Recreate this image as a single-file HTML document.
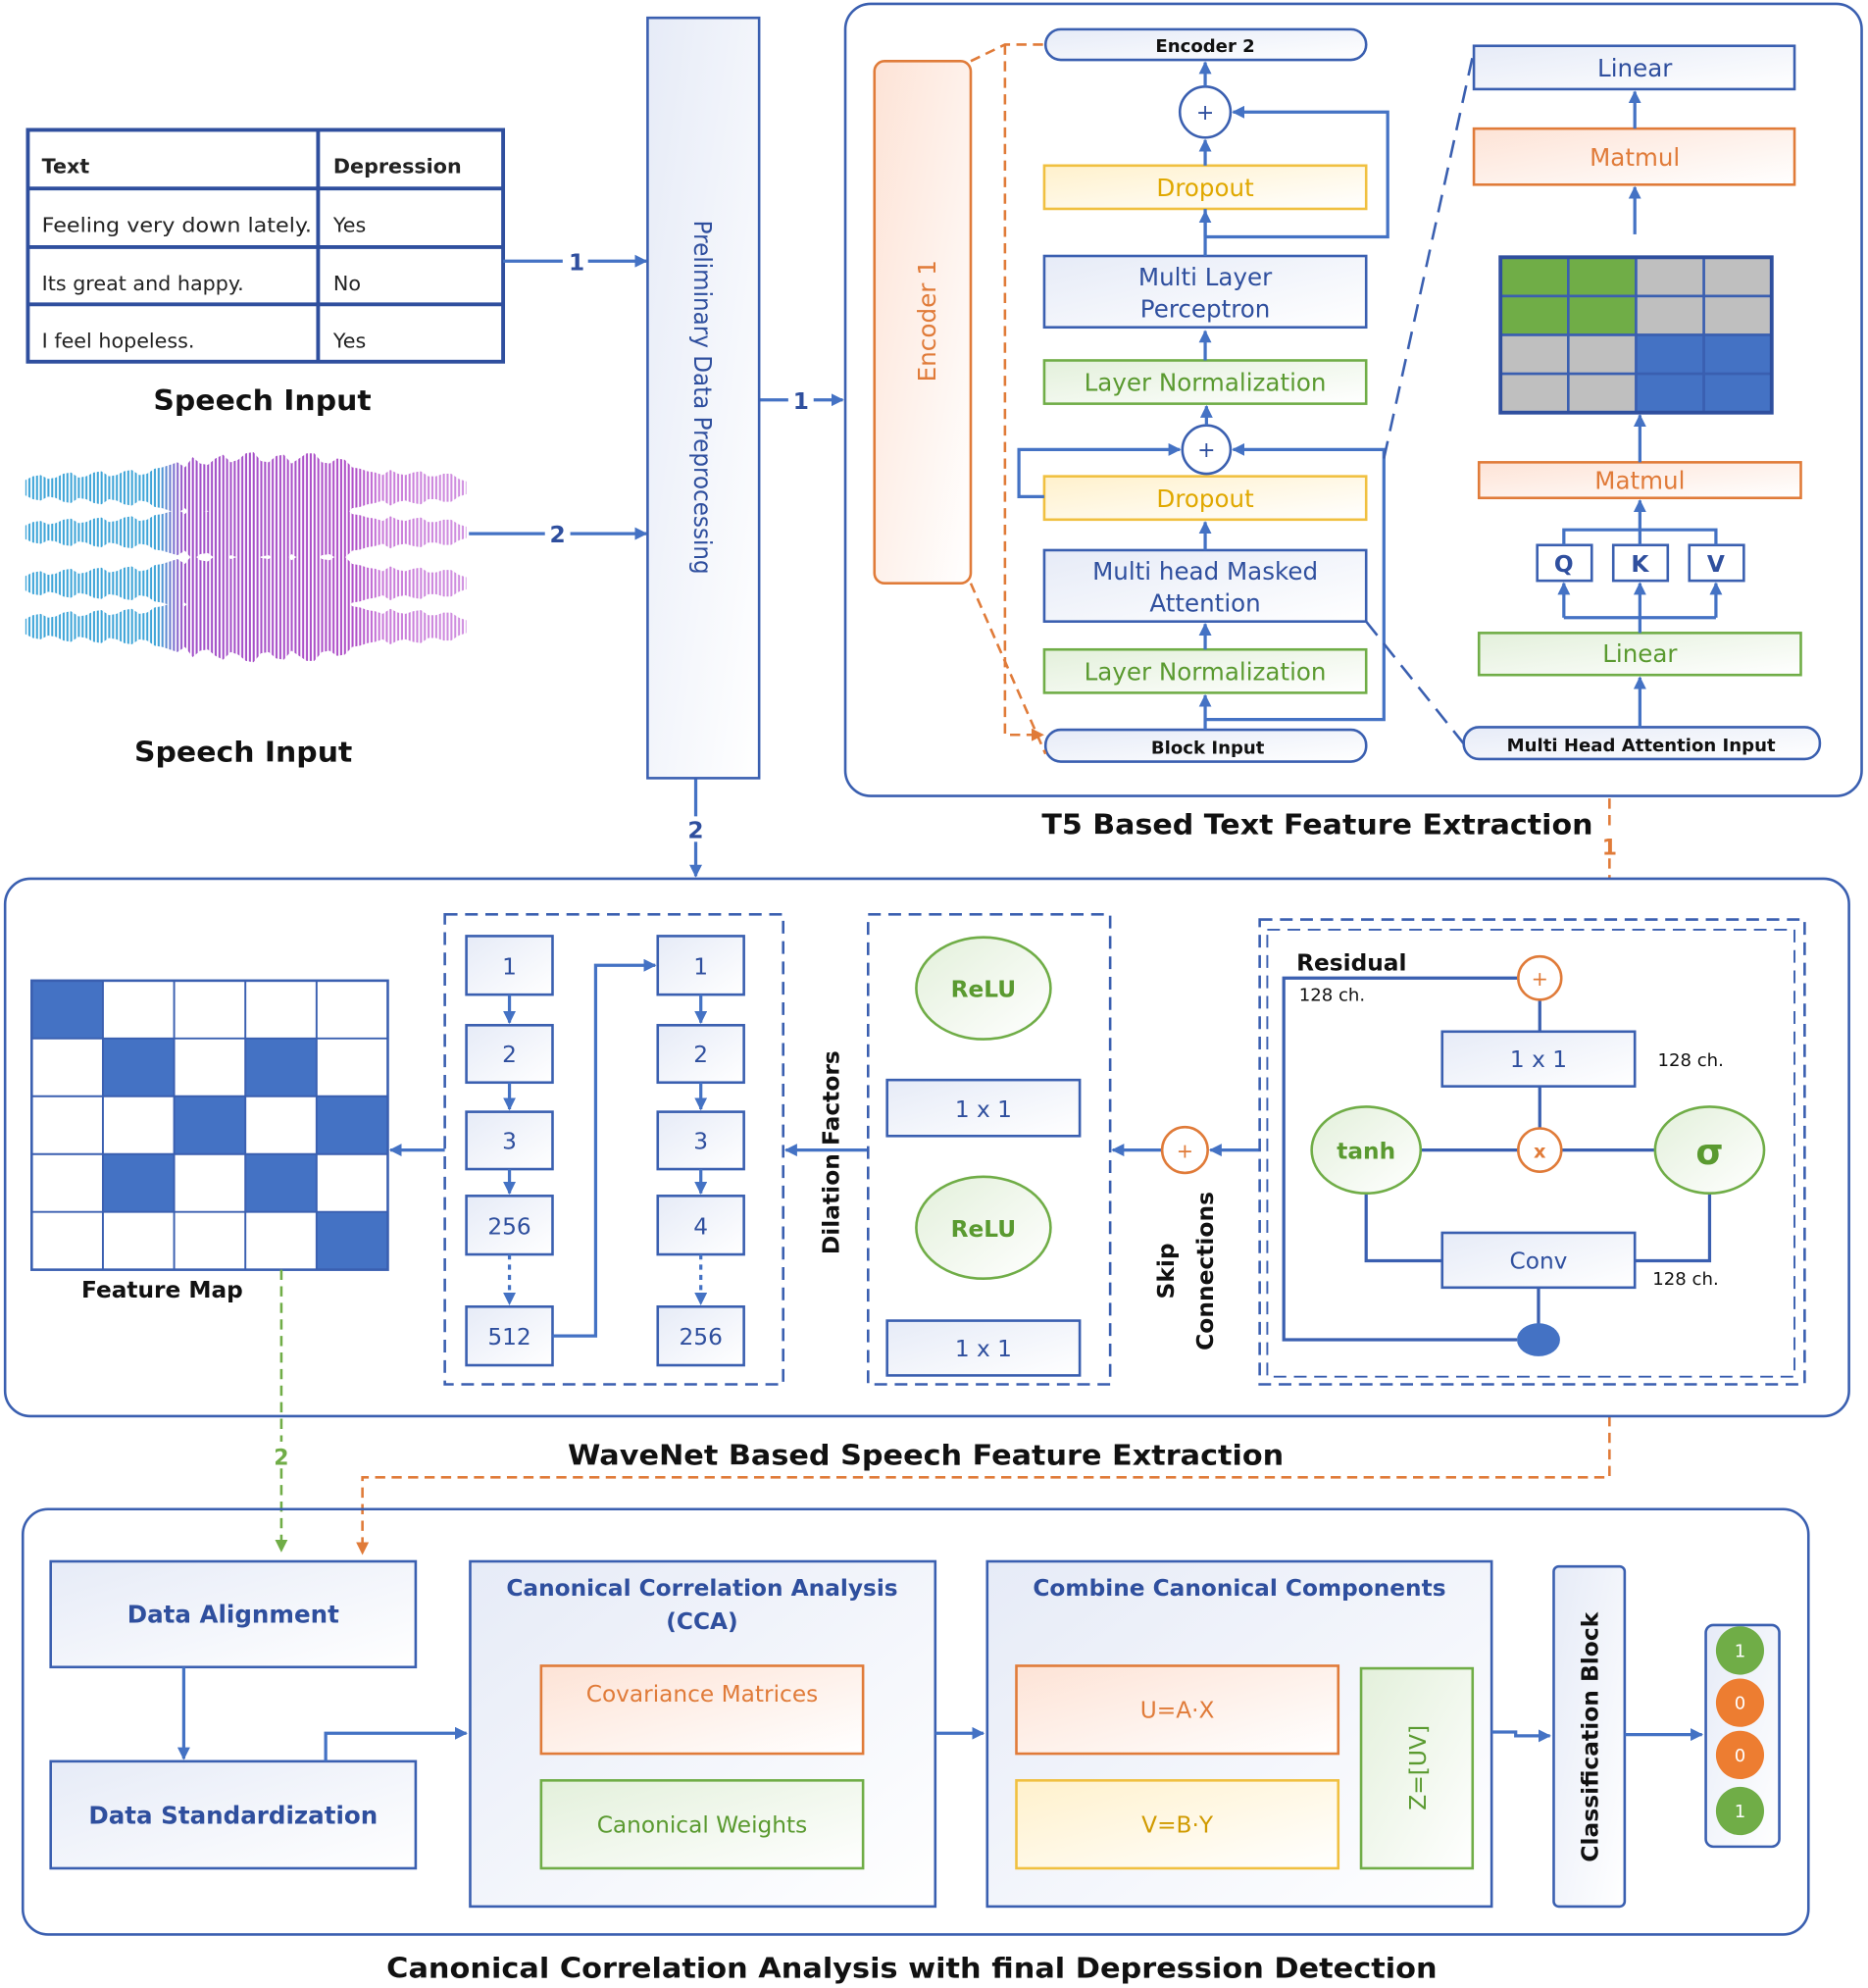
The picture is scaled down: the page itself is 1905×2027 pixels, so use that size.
<!DOCTYPE html>
<html><head><meta charset="utf-8"><style>
html,body{margin:0;padding:0;background:#fff}
svg{display:block}
text{font-family:"DejaVu Sans","Liberation Sans",sans-serif}
</style></head><body>
<svg width="1905" height="2027" viewBox="0 0 1474 1561" preserveAspectRatio="none" xmlns="http://www.w3.org/2000/svg">
<defs>
<marker id="ab" markerWidth="10" markerHeight="10" refX="9" refY="5" orient="auto" markerUnits="userSpaceOnUse"><path d="M0,0 L10,5 L0,10 z" fill="#4472c4"/></marker>
<marker id="ao" markerWidth="10" markerHeight="10" refX="9" refY="5" orient="auto" markerUnits="userSpaceOnUse"><path d="M0,0 L10,5 L0,10 z" fill="#e07b39"/></marker>
<marker id="ag" markerWidth="10" markerHeight="10" refX="9" refY="5" orient="auto" markerUnits="userSpaceOnUse"><path d="M0,0 L10,5 L0,10 z" fill="#70ad47"/></marker>
<linearGradient id="gb" x1="0" y1="0" x2="1" y2="1"><stop offset="0" stop-color="#e6ebf7"/><stop offset="1" stop-color="#ffffff"/></linearGradient>
<linearGradient id="go" x1="0" y1="0" x2="1" y2="1"><stop offset="0" stop-color="#fde3d6"/><stop offset="1" stop-color="#ffffff"/></linearGradient>
<linearGradient id="gy" x1="0" y1="0" x2="1" y2="1"><stop offset="0" stop-color="#fff1cc"/><stop offset="1" stop-color="#ffffff"/></linearGradient>
<linearGradient id="gg" x1="0" y1="0" x2="1" y2="1"><stop offset="0" stop-color="#e3f0db"/><stop offset="1" stop-color="#ffffff"/></linearGradient>
<linearGradient id="wg" gradientUnits="userSpaceOnUse" x1="20" y1="0" x2="368" y2="0">
<stop offset="0" stop-color="#3fa5d8"/><stop offset="0.3" stop-color="#3fa5d8"/><stop offset="0.36" stop-color="#a050c8"/><stop offset="0.75" stop-color="#b050c8"/><stop offset="0.8" stop-color="#c878d8"/><stop offset="1" stop-color="#d090e0"/></linearGradient>
<pattern id="stripe" patternUnits="userSpaceOnUse" width="3" height="10"><rect x="0" y="0" width="1.4" height="10" fill="#fff"/></pattern>
<polygon id="wv" points="20,-6 26,-9 32,-10 38,-7 44,-8 50,-11 56,-12 62,-8 68,-9 74,-12 80,-13 86,-9 92,-10 98,-13 104,-14 110,-10 116,-11 122,-15 128,-16 134,-18 140,-20 146,-16 152,-24 158,-19 164,-18 170,-23 176,-26 182,-20 188,-22 194,-27 200,-28 206,-21 212,-20 218,-25 224,-26 230,-19 236,-23 242,-27 248,-27 254,-20 260,-19 266,-23 272,-22 278,-16 284,-15 290,-13 296,-12 302,-10 308,-14 314,-11 320,-10 326,-12 332,-13 338,-9 344,-9 350,-11 356,-11 362,-7 368,-5 368,5 362,7 356,11 350,11 344,9 338,9 332,13 326,12 320,10 314,11 308,14 302,10 296,12 290,13 284,15 278,16 272,22 266,23 260,19 254,20 248,27 242,27 236,23 230,19 224,26 218,25 212,20 206,21 200,28 194,27 188,22 182,20 176,26 170,23 164,18 158,19 152,24 146,16 140,20 134,18 128,16 122,15 116,11 110,10 104,14 98,13 92,10 86,9 80,13 74,12 68,9 62,8 56,12 50,11 44,8 38,7 32,10 26,9 20,6"/>
</defs>

<!-- Table -->
<g stroke="#2f4f9e" stroke-width="3" fill="none">
<rect x="22" y="102" width="375" height="182"/>
<line x1="251" y1="102" x2="251" y2="284"/>
<line x1="22" y1="148" x2="397" y2="148"/>
<line x1="22" y1="194" x2="397" y2="194"/>
<line x1="22" y1="239" x2="397" y2="239"/>
</g>
<g font-size="16" fill="#222">
<text x="33" y="136" font-weight="bold" font-size="16">Text</text>
<text x="263" y="136" font-weight="bold" font-size="16">Depression</text>
<text x="33" y="182" textLength="213" lengthAdjust="spacingAndGlyphs">Feeling very down lately.</text><text x="263" y="182">Yes</text>
<text x="33" y="228">Its great and happy.</text><text x="263" y="228">No</text>
<text x="33" y="273">I feel hopeless.</text><text x="263" y="273">Yes</text>
</g>
<text x="121" y="322" font-weight="bold" font-size="22" fill="#111" textLength="172" lengthAdjust="spacingAndGlyphs">Speech Input</text>

<!-- waveform -->
<g fill="url(#wg)">
<use href="#wv" transform="translate(0,383)"/>
<use href="#wv" transform="translate(0,418) scale(1,0.9)"/>
<use href="#wv" transform="translate(0,458) scale(1,0.95)"/>
<use href="#wv" transform="translate(0,492)"/>
</g>
<rect x="18" y="350" width="352" height="176" fill="url(#stripe)"/>

<text x="106" y="598" font-weight="bold" font-size="22" fill="#111" textLength="172" lengthAdjust="spacingAndGlyphs">Speech Input</text>

<g stroke="#4472c4" stroke-width="2.5" fill="none" marker-end="url(#ab)">
<line x1="397" y1="205" x2="510" y2="205"/>
<line x1="370" y1="419" x2="510" y2="419"/>
<line x1="599" y1="314" x2="665" y2="314"/>
<line x1="549" y1="611" x2="549" y2="688"/>
</g>
<g font-size="18" font-weight="bold" fill="#2f4f9e" text-anchor="middle">
<rect x="444" y="195" width="20" height="20" fill="#fff"/><text x="455" y="212">1</text>
<rect x="430" y="409" width="20" height="20" fill="#fff"/><text x="440" y="426">2</text>
<rect x="622" y="304" width="20" height="20" fill="#fff"/><text x="632" y="321">1</text>
<rect x="539" y="641" width="20" height="20" fill="#fff"/><text x="549" y="658">2</text>
</g>

<!-- Preprocessing -->
<rect x="511" y="14" width="88" height="597" fill="url(#gb)" stroke="#3a5fb0" stroke-width="2"/>
<text transform="translate(548,312) rotate(90)" text-anchor="middle" font-size="19" fill="#2f4f9e" textLength="278" lengthAdjust="spacingAndGlyphs">Preliminary Data Preprocessing</text>

<!-- T5 -->
<rect x="667" y="3" width="802" height="622" rx="20" fill="none" stroke="#3a5fb0" stroke-width="2"/>
<text x="822" y="655" font-weight="bold" font-size="22" fill="#111" textLength="435" lengthAdjust="spacingAndGlyphs">T5 Based Text Feature Extraction</text>
<rect x="690" y="48" width="76" height="410" rx="8" fill="url(#go)" stroke="#e07b39" stroke-width="2"/>
<text transform="translate(738,252) rotate(-90)" text-anchor="middle" font-size="19" fill="#e07b39">Encoder 1</text>

<rect x="825" y="23" width="253" height="24" rx="12" fill="url(#gb)" stroke="#3a5fb0" stroke-width="2"/>
<text x="951" y="41" text-anchor="middle" font-weight="bold" font-size="14" fill="#111">Encoder 2</text>
<rect x="825" y="573" width="253" height="25" rx="12" fill="url(#gb)" stroke="#3a5fb0" stroke-width="2"/>
<text x="953" y="592" text-anchor="middle" font-weight="bold" font-size="14" fill="#111">Block Input</text>

<g stroke-width="2">
<rect x="824" y="130" width="254" height="34" fill="url(#gy)" stroke="#f0c040"/>
<rect x="824" y="201" width="254" height="56" fill="url(#gb)" stroke="#3a5fb0"/>
<rect x="824" y="283" width="254" height="34" fill="url(#gg)" stroke="#70ad47"/>
<rect x="824" y="374" width="254" height="34" fill="url(#gy)" stroke="#f0c040"/>
<rect x="824" y="432" width="254" height="56" fill="url(#gb)" stroke="#3a5fb0"/>
<rect x="824" y="510" width="254" height="34" fill="url(#gg)" stroke="#70ad47"/>
</g>
<g font-size="19" text-anchor="middle">
<text x="951" y="154" fill="#e0a800">Dropout</text>
<text x="951" y="224" fill="#2f4f9e">Multi Layer</text><text x="951" y="249" fill="#2f4f9e">Perceptron</text>
<text x="951" y="307" fill="#5a9a30">Layer Normalization</text>
<text x="951" y="398" fill="#e0a800">Dropout</text>
<text x="951" y="455" fill="#2f4f9e">Multi head Masked</text><text x="951" y="480" fill="#2f4f9e">Attention</text>
<text x="951" y="534" fill="#5a9a30">Layer Normalization</text>
</g>
<circle cx="951" cy="88" r="20" fill="#fff" stroke="#3a5fb0" stroke-width="2"/><text x="951" y="94" text-anchor="middle" font-size="17" fill="#2f4f9e">+</text>
<circle cx="952" cy="353" r="19" fill="#fff" stroke="#3a5fb0" stroke-width="2"/><text x="952" y="359" text-anchor="middle" font-size="17" fill="#2f4f9e">+</text>
<g stroke="#4472c4" stroke-width="2.5" fill="none" marker-end="url(#ab)">
<line x1="951" y1="573" x2="951" y2="546"/>
<line x1="951" y1="510" x2="951" y2="490"/>
<line x1="951" y1="432" x2="951" y2="410"/>
<line x1="951" y1="283" x2="951" y2="260"/>
<line x1="951" y1="201" x2="951" y2="166"/>
<line x1="951" y1="130" x2="951" y2="110"/>
<line x1="951" y1="68" x2="951" y2="49"/>
<line x1="952" y1="334" x2="952" y2="319"/>
<polyline points="952,186 1095,186 1095,88 973,88"/>
<polyline points="824,390 804,390 804,353 931,353"/>
<polyline points="952,565 1092,565 1092,353 973,353"/>
</g>
<line x1="951" y1="164" x2="951" y2="186" stroke="#4472c4" stroke-width="2.5"/>
<g stroke="#e07b39" stroke-width="2" fill="none" stroke-dasharray="8,5">
<polyline points="766,48 793,35 825,35"/>
<polyline points="793,35 793,577 823,577" marker-end="url(#ao)"/>
<line x1="766" y1="458" x2="825" y2="592"/>
</g>
<g stroke="#3a5fb0" stroke-width="2" fill="none" stroke-dasharray="14,8">
<line x1="1078" y1="488" x2="1155" y2="584"/>
<line x1="1092" y1="360" x2="1163" y2="40"/>
</g>

<!-- attention detail -->
<rect x="1163" y="36" width="253" height="34" fill="url(#gb)" stroke="#3a5fb0" stroke-width="2"/>
<text x="1290" y="60" text-anchor="middle" font-size="19" fill="#2f4f9e">Linear</text>
<rect x="1163" y="101" width="253" height="44" fill="url(#go)" stroke="#e07b39" stroke-width="2"/>
<text x="1290" y="130" text-anchor="middle" font-size="19" fill="#e07b39">Matmul</text>
<g stroke="#3a5fb0" stroke-width="2">
<rect x="1184" y="202" width="53.5" height="30.5" fill="#70ad47"/><rect x="1237.5" y="202" width="53.5" height="30.5" fill="#70ad47"/><rect x="1291" y="202" width="53.5" height="30.5" fill="#bfbfbf"/><rect x="1344.5" y="202" width="53.5" height="30.5" fill="#bfbfbf"/>
<rect x="1184" y="232.5" width="53.5" height="30.5" fill="#70ad47"/><rect x="1237.5" y="232.5" width="53.5" height="30.5" fill="#70ad47"/><rect x="1291" y="232.5" width="53.5" height="30.5" fill="#bfbfbf"/><rect x="1344.5" y="232.5" width="53.5" height="30.5" fill="#bfbfbf"/>
<rect x="1184" y="263" width="53.5" height="30.5" fill="#bfbfbf"/><rect x="1237.5" y="263" width="53.5" height="30.5" fill="#bfbfbf"/><rect x="1291" y="263" width="53.5" height="30.5" fill="#4472c4"/><rect x="1344.5" y="263" width="53.5" height="30.5" fill="#4472c4"/>
<rect x="1184" y="293.5" width="53.5" height="30.5" fill="#bfbfbf"/><rect x="1237.5" y="293.5" width="53.5" height="30.5" fill="#bfbfbf"/><rect x="1291" y="293.5" width="53.5" height="30.5" fill="#4472c4"/><rect x="1344.5" y="293.5" width="53.5" height="30.5" fill="#4472c4"/>
</g>
<rect x="1184" y="202" width="214" height="122" fill="none" stroke="#2f4f9e" stroke-width="3"/>
<rect x="1167" y="363" width="254" height="28" fill="url(#go)" stroke="#e07b39" stroke-width="2"/>
<text x="1294" y="384" text-anchor="middle" font-size="19" fill="#e07b39">Matmul</text>
<g stroke="#3a5fb0" stroke-width="2" fill="#fff">
<rect x="1213" y="428" width="43" height="28"/><rect x="1273" y="428" width="43" height="28"/><rect x="1333" y="428" width="43" height="28"/>
</g>
<g font-size="18" font-weight="bold" fill="#2f4f9e" text-anchor="middle"><text x="1234" y="449">Q</text><text x="1294" y="449">K</text><text x="1354" y="449">V</text></g>
<rect x="1167" y="497" width="254" height="33" fill="url(#gg)" stroke="#70ad47" stroke-width="2"/>
<text x="1294" y="520" text-anchor="middle" font-size="19" fill="#5a9a30">Linear</text>
<rect x="1155" y="571" width="281" height="25" rx="12" fill="url(#gb)" stroke="#3a5fb0" stroke-width="2"/>
<text x="1295" y="590" text-anchor="middle" font-weight="bold" font-size="14" fill="#111">Multi Head Attention Input</text>
<g stroke="#4472c4" stroke-width="2.5" fill="none">
<line x1="1290" y1="101" x2="1290" y2="72" marker-end="url(#ab)"/>
<line x1="1290" y1="184" x2="1290" y2="147" marker-end="url(#ab)"/>
<line x1="1294" y1="363" x2="1294" y2="326" marker-end="url(#ab)"/>
<line x1="1294" y1="428" x2="1294" y2="393" marker-end="url(#ab)"/>
<polyline points="1234,428 1234,416 1354,416 1354,428"/>
<polyline points="1234,485 1354,485"/>
<line x1="1234" y1="485" x2="1234" y2="458" marker-end="url(#ab)"/>
<line x1="1294" y1="497" x2="1294" y2="458" marker-end="url(#ab)"/>
<line x1="1354" y1="485" x2="1354" y2="458" marker-end="url(#ab)"/>
<line x1="1294" y1="571" x2="1294" y2="532" marker-end="url(#ab)"/>
</g>

<!-- orange dashed 1 -->
<g stroke="#e07b39" stroke-width="2" fill="none" stroke-dasharray="8,5">
<line x1="1270" y1="627" x2="1270" y2="652"/>
<line x1="1270" y1="674" x2="1270" y2="690"/>
<polyline points="1270,1112 1270,1160 286,1160 286,1220" marker-end="url(#ao)"/>
</g>
<text x="1270" y="671" text-anchor="middle" font-size="17" font-weight="bold" fill="#e07b39">1</text>

<!-- WaveNet -->
<rect x="4" y="690" width="1455" height="422" rx="20" fill="none" stroke="#3a5fb0" stroke-width="2"/>
<text x="448" y="1150" font-weight="bold" font-size="22" fill="#111" textLength="565" lengthAdjust="spacingAndGlyphs">WaveNet Based Speech Feature Extraction</text>

<!-- feature map -->
<rect x="25" y="770" width="281" height="227" fill="#fff"/>
<g fill="#4472c4">
<rect x="25" y="770" width="56.2" height="45.4"/>
<rect x="81.2" y="815.4" width="56.2" height="45.4"/><rect x="193.6" y="815.4" width="56.2" height="45.4"/>
<rect x="137.4" y="860.8" width="56.2" height="45.4"/><rect x="249.8" y="860.8" width="56.2" height="45.4"/>
<rect x="81.2" y="906.2" width="56.2" height="45.4"/><rect x="193.6" y="906.2" width="56.2" height="45.4"/>
<rect x="249.8" y="951.6" width="56.2" height="45.4"/>
</g>
<g stroke="#3a5fb0" stroke-width="1.5">
<line x1="81.2" y1="770" x2="81.2" y2="997"/><line x1="137.4" y1="770" x2="137.4" y2="997"/><line x1="193.6" y1="770" x2="193.6" y2="997"/><line x1="249.8" y1="770" x2="249.8" y2="997"/>
<line x1="25" y1="815.4" x2="306" y2="815.4"/><line x1="25" y1="860.8" x2="306" y2="860.8"/><line x1="25" y1="906.2" x2="306" y2="906.2"/><line x1="25" y1="951.6" x2="306" y2="951.6"/>
</g>
<rect x="25" y="770" width="281" height="227" fill="none" stroke="#3a5fb0" stroke-width="2"/>
<text x="128" y="1019" text-anchor="middle" font-weight="bold" font-size="18" fill="#111">Feature Map</text>

<rect x="351" y="718" width="267" height="369" fill="none" stroke="#3a5fb0" stroke-width="2" stroke-dasharray="10,6"/>
<g stroke="#3a5fb0" stroke-width="2" fill="url(#gb)">
<rect x="368" y="735" width="68" height="46"/><rect x="368" y="805" width="68" height="45"/><rect x="368" y="873" width="68" height="45"/><rect x="368" y="939" width="68" height="46"/><rect x="368" y="1026" width="68" height="46"/>
<rect x="519" y="735" width="68" height="46"/><rect x="519" y="805" width="68" height="45"/><rect x="519" y="873" width="68" height="45"/><rect x="519" y="939" width="68" height="46"/><rect x="519" y="1026" width="68" height="46"/>
</g>
<g font-size="18" fill="#2f4f9e" text-anchor="middle">
<text x="402" y="765">1</text><text x="402" y="834">2</text><text x="402" y="902">3</text><text x="402" y="969">256</text><text x="402" y="1056">512</text>
<text x="553" y="765">1</text><text x="553" y="834">2</text><text x="553" y="902">3</text><text x="553" y="969">4</text><text x="553" y="1056">256</text>
</g>
<g stroke="#4472c4" stroke-width="2.5" fill="none" marker-end="url(#ab)">
<line x1="402" y1="781" x2="402" y2="803"/><line x1="402" y1="850" x2="402" y2="871"/><line x1="402" y1="918" x2="402" y2="937"/>
<line x1="553" y1="781" x2="553" y2="803"/><line x1="553" y1="850" x2="553" y2="871"/><line x1="553" y1="918" x2="553" y2="937"/>
<line x1="402" y1="985" x2="402" y2="1024" stroke-dasharray="4,4"/>
<line x1="553" y1="985" x2="553" y2="1024" stroke-dasharray="4,4"/>
<polyline points="436,1049 470,1049 470,758 517,758"/>
<line x1="351" y1="903" x2="308" y2="903"/>
<line x1="685" y1="903" x2="620" y2="903"/>
<line x1="917" y1="903" x2="878" y2="903"/>
<line x1="995" y1="903" x2="955" y2="903"/>
</g>
<text transform="translate(662,905) rotate(-90)" text-anchor="middle" font-size="18" font-weight="bold" fill="#111">Dilation Factors</text>

<rect x="685" y="718" width="191" height="369" fill="none" stroke="#3a5fb0" stroke-width="2" stroke-dasharray="10,6"/>
<ellipse cx="776" cy="776" rx="53" ry="40" fill="url(#gg)" stroke="#70ad47" stroke-width="2"/>
<ellipse cx="776" cy="964" rx="53" ry="40" fill="url(#gg)" stroke="#70ad47" stroke-width="2"/>
<text x="776" y="783" text-anchor="middle" font-size="18" font-weight="bold" fill="#5a9a30">ReLU</text>
<text x="776" y="971" text-anchor="middle" font-size="18" font-weight="bold" fill="#5a9a30">ReLU</text>
<rect x="700" y="848" width="152" height="44" fill="url(#gb)" stroke="#3a5fb0" stroke-width="2"/>
<rect x="700" y="1037" width="152" height="43" fill="url(#gb)" stroke="#3a5fb0" stroke-width="2"/>
<text x="776" y="877" text-anchor="middle" font-size="18" fill="#2f4f9e">1 x 1</text>
<text x="776" y="1065" text-anchor="middle" font-size="18" fill="#2f4f9e">1 x 1</text>

<circle cx="935" cy="903" r="18" fill="#fff" stroke="#e07b39" stroke-width="2"/><text x="935" y="909" text-anchor="middle" font-size="16" fill="#e07b39">+</text>
<text transform="translate(926,998) rotate(-90)" text-anchor="middle" font-size="18" font-weight="bold" fill="#111">Skip</text>
<text transform="translate(957,998) rotate(-90)" text-anchor="middle" font-size="18" font-weight="bold" fill="#111">Connections</text>

<rect x="994" y="722" width="430" height="365" fill="none" stroke="#3a5fb0" stroke-width="2" stroke-dasharray="10,6"/>
<rect x="1000" y="730" width="416" height="351" fill="none" stroke="#3a5fb0" stroke-width="1.5" stroke-dasharray="10,6"/>
<text x="1023" y="762" font-size="18" font-weight="bold" fill="#111">Residual</text>
<text x="1025" y="786" font-size="14" fill="#111">128 ch.</text>
<text x="1308" y="837" font-size="14" fill="#111">128 ch.</text>
<text x="1304" y="1009" font-size="14" fill="#111">128 ch.</text>
<g stroke="#3a5fb0" stroke-width="2.5" fill="none">
<polyline points="1197,768 1013,768 1013,1052 1197,1052"/>
<line x1="1215" y1="785" x2="1215" y2="810"/>
<line x1="1215" y1="853" x2="1215" y2="886"/>
<line x1="1121" y1="903" x2="1306" y2="903"/>
<polyline points="1078,937 1078,990 1138,990"/>
<polyline points="1349,937 1349,990 1290,990"/>
<line x1="1214" y1="1011" x2="1214" y2="1040"/>
</g>
<rect x="1138" y="810" width="152" height="43" fill="url(#gb)" stroke="#3a5fb0" stroke-width="2"/>
<text x="1214" y="838" text-anchor="middle" font-size="18" fill="#2f4f9e">1 x 1</text>
<rect x="1138" y="968" width="152" height="43" fill="url(#gb)" stroke="#3a5fb0" stroke-width="2"/>
<text x="1214" y="996" text-anchor="middle" font-size="18" fill="#2f4f9e">Conv</text>
<circle cx="1215" cy="768" r="17" fill="#fff" stroke="#e07b39" stroke-width="2"/><text x="1215" y="774" text-anchor="middle" font-size="16" fill="#e07b39">+</text>
<circle cx="1215" cy="903" r="17" fill="#fff" stroke="#e07b39" stroke-width="2"/><text x="1215" y="909" text-anchor="middle" font-size="15" font-weight="bold" fill="#e07b39">x</text>
<ellipse cx="1078" cy="903" rx="43" ry="34" fill="url(#gg)" stroke="#70ad47" stroke-width="2"/>
<text x="1078" y="910" text-anchor="middle" font-size="18" font-weight="bold" fill="#5a9a30">tanh</text>
<ellipse cx="1349" cy="903" rx="43" ry="34" fill="url(#gg)" stroke="#70ad47" stroke-width="2"/>
<text x="1349" y="914" text-anchor="middle" font-size="28" font-weight="bold" fill="#5a9a30">σ</text>
<ellipse cx="1214" cy="1052" rx="17" ry="13" fill="#4472c4"/>

<!-- green dashed 2 -->
<line x1="222" y1="997" x2="222" y2="1218" stroke="#70ad47" stroke-width="2" stroke-dasharray="8,5" marker-end="url(#ag)"/>
<rect x="212" y="1132" width="20" height="20" fill="#fff"/>
<text x="222" y="1150" text-anchor="middle" font-size="17" font-weight="bold" fill="#70ad47">2</text>

<!-- CCA -->
<rect x="18" y="1185" width="1409" height="334" rx="20" fill="none" stroke="#3a5fb0" stroke-width="2"/>
<text x="305" y="1553" font-weight="bold" font-size="22" fill="#111" textLength="829" lengthAdjust="spacingAndGlyphs">Canonical Correlation Analysis with final Depression Detection</text>
<rect x="40" y="1226" width="288" height="83" fill="url(#gb)" stroke="#3a5fb0" stroke-width="2"/>
<text x="184" y="1274" text-anchor="middle" font-size="19" font-weight="bold" fill="#2f4f9e">Data Alignment</text>
<rect x="40" y="1383" width="288" height="84" fill="url(#gb)" stroke="#3a5fb0" stroke-width="2"/>
<text x="184" y="1432" text-anchor="middle" font-size="19" font-weight="bold" fill="#2f4f9e">Data Standardization</text>
<rect x="371" y="1226" width="367" height="271" fill="url(#gb)" stroke="#3a5fb0" stroke-width="2"/>
<text x="554" y="1253" text-anchor="middle" font-size="18" font-weight="bold" fill="#2f4f9e">Canonical Correlation Analysis</text>
<text x="554" y="1279" text-anchor="middle" font-size="18" font-weight="bold" fill="#2f4f9e">(CCA)</text>
<rect x="427" y="1308" width="254" height="69" fill="url(#go)" stroke="#e07b39" stroke-width="2"/>
<text x="554" y="1336" text-anchor="middle" font-size="18" fill="#e07b39">Covariance Matrices</text>
<rect x="427" y="1398" width="254" height="69" fill="url(#gg)" stroke="#70ad47" stroke-width="2"/>
<text x="554" y="1439" text-anchor="middle" font-size="18" fill="#5a9a30">Canonical Weights</text>
<rect x="779" y="1226" width="398" height="271" fill="url(#gb)" stroke="#3a5fb0" stroke-width="2"/>
<text x="978" y="1253" text-anchor="middle" font-size="18" font-weight="bold" fill="#2f4f9e">Combine Canonical Components</text>
<rect x="802" y="1308" width="254" height="69" fill="url(#go)" stroke="#e07b39" stroke-width="2"/>
<text x="929" y="1349" text-anchor="middle" font-size="18" fill="#e07b39">U=A·X</text>
<rect x="802" y="1398" width="254" height="69" fill="url(#gy)" stroke="#f0c040" stroke-width="2"/>
<text x="929" y="1439" text-anchor="middle" font-size="18" fill="#d09a00">V=B·Y</text>
<rect x="1074" y="1310" width="88" height="157" fill="url(#gg)" stroke="#70ad47" stroke-width="2"/>
<text transform="translate(1125,1388) rotate(-90)" text-anchor="middle" font-size="18" fill="#5a9a30">Z=[UV]</text>
<rect x="1226" y="1230" width="56" height="267" rx="4" fill="url(#gb)" stroke="#3a5fb0" stroke-width="2"/>
<text transform="translate(1261,1364) rotate(-90)" text-anchor="middle" font-size="18" font-weight="bold" fill="#111">Classification Block</text>
<rect x="1346" y="1276" width="58" height="174" rx="6" fill="url(#gb)" stroke="#3a5fb0" stroke-width="2"/>
<g font-size="14" fill="#fff" text-anchor="middle">
<circle cx="1373" cy="1296" r="19" fill="#70ad47"/><text x="1373" y="1301">1</text>
<circle cx="1373" cy="1337" r="19" fill="#ed7d31"/><text x="1373" y="1342">0</text>
<circle cx="1373" cy="1378" r="19" fill="#ed7d31"/><text x="1373" y="1383">0</text>
<circle cx="1373" cy="1422" r="19" fill="#70ad47"/><text x="1373" y="1427">1</text>
</g>
<g stroke="#4472c4" stroke-width="2.5" fill="none" marker-end="url(#ab)">
<line x1="145" y1="1309" x2="145" y2="1381"/>
<polyline points="257,1383 257,1361 368,1361"/>
<line x1="738" y1="1361" x2="776" y2="1361"/>
<polyline points="1177,1360 1196,1360 1196,1363 1223,1363"/>
<line x1="1282" y1="1362" x2="1343" y2="1362"/>
</g>
</svg>
</body></html>
